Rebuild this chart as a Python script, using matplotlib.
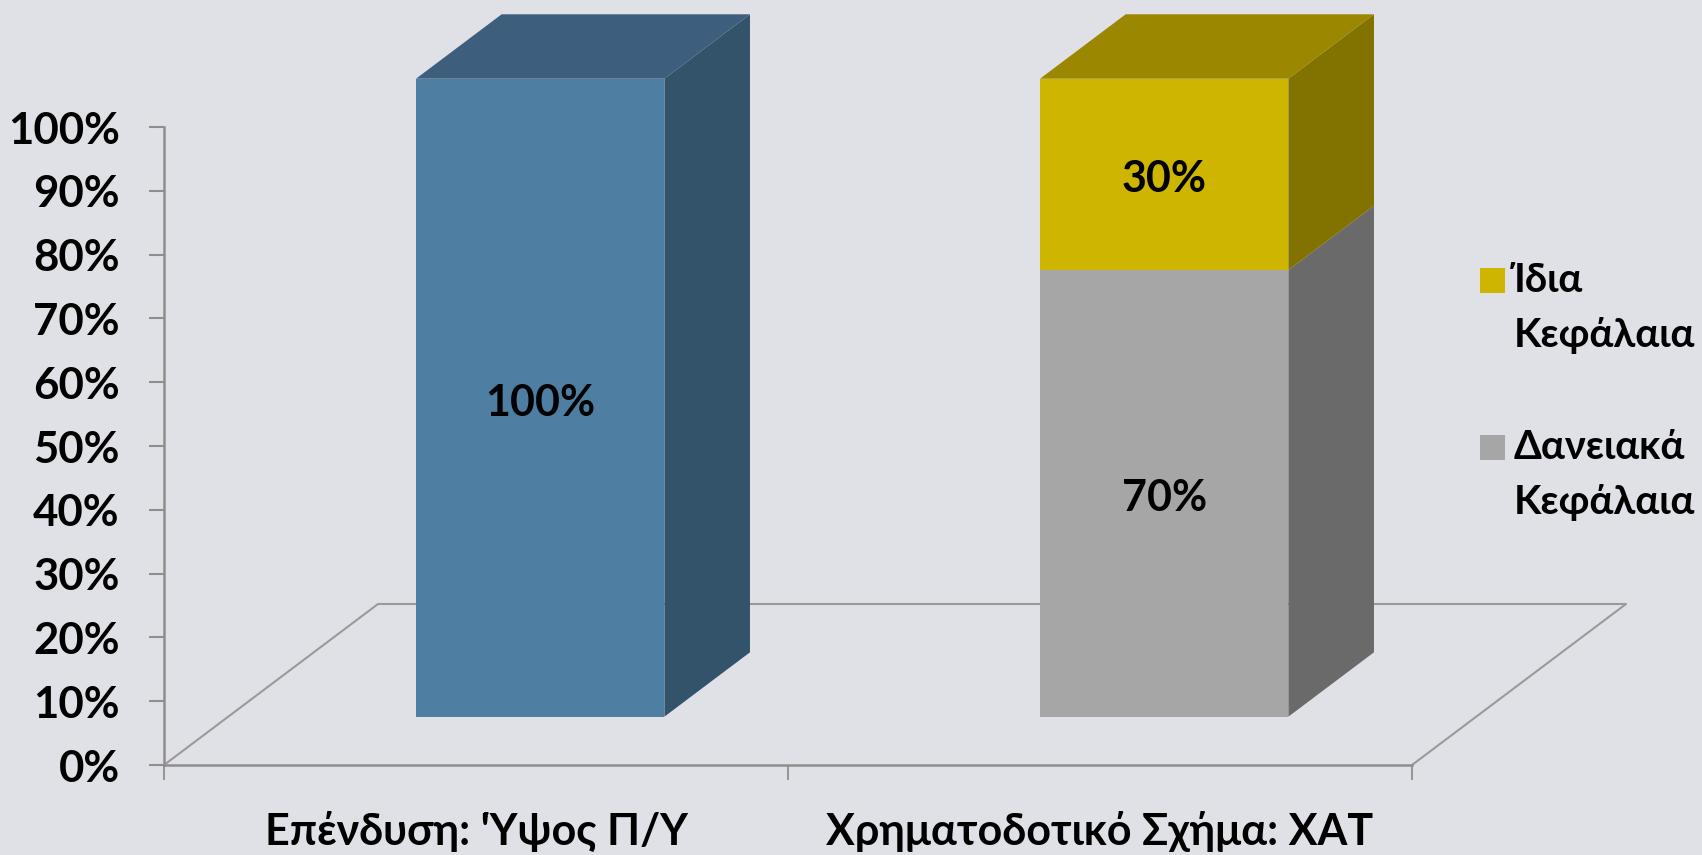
#!/usr/bin/python3
import matplotlib as mpl
mpl.use('Agg')
from matplotlib import pyplot as plt
from matplotlib.patches import Polygon, Rectangle

plt.rcParams['font.family'] = ['Lato', 'Open Sans', 'DejaVu Sans']
plt.rcParams['font.weight'] = 'bold'

categories = ["Επένδυση: 'Ύψος Π/Υ", 'Χρηματοδοτικό Σχήμα: ΧΑΤ']
invest_values = [100, 0]
debt_values = [0, 70]
equity_values = [0, 30]
yticks = list(range(0, 101, 10))
legend_labels = ['Ίδια\nΚεφάλαια', 'Δανειακά\nΚεφάλαια']

W, H = 1702, 855
BG = '#E0E1E7'
AXIS = '#8E8E8E'

# plot box in pixels
X0, X1, Y0, Y1 = 164, 1412, 765, 127
# oblique floor depth, in data units
DX = 214 / (X1 - X0) * 2
DY = 161 / (Y0 - Y1) * 100
D_FRONT, D_BACK = 0.30, 0.70
BAR_W = 0.398


def proj(x, y, d):
    return (x + d * DX, y + d * DY)


def draw_bar(ax, xc, bottom, top, front, side, cap, label, last):
    xl, xr = xc - BAR_W / 2, xc + BAR_W / 2
    ax.add_patch(Polygon([proj(xl, bottom, D_FRONT), proj(xr, bottom, D_FRONT),
                          proj(xr, top, D_FRONT), proj(xl, top, D_FRONT)],
                         fc=front, ec='none', clip_on=False, zorder=4))
    ax.add_patch(Polygon([proj(xr, bottom, D_FRONT), proj(xr, bottom, D_BACK),
                          proj(xr, top, D_BACK), proj(xr, top, D_FRONT)],
                         fc=side, ec='none', clip_on=False, zorder=3))
    if last:
        ax.add_patch(Polygon([proj(xl, top, D_FRONT), proj(xr, top, D_FRONT),
                              proj(xr, top, D_BACK), proj(xl, top, D_BACK)],
                             fc=cap, ec='none', clip_on=False, zorder=3))
    ax.annotate(label, proj(xc, (bottom + top) / 2, D_FRONT), xytext=(0, -3.5),
                textcoords='offset points', ha='center', va='center',
                fontsize=31, color='black', zorder=5)


def main():
    fh = plt.figure(figsize=(W / 100, H / 100), dpi=100, facecolor=BG)
    ax = fh.add_axes([X0 / W, 1 - Y0 / H, (X1 - X0) / W, (Y0 - Y1) / H])
    ax.set_facecolor('none')
    ax.set_xlim(0, 2)
    ax.set_ylim(0, 100)

    for s in ['top', 'right']:
        ax.spines[s].set_visible(False)
    for s in ['left', 'bottom']:
        ax.spines[s].set_color(AXIS)
        ax.spines[s].set_linewidth(1.8)

    ax.set_yticks(yticks)
    ax.set_yticklabels([str(v) + '%' for v in yticks], fontsize=31.5)
    ax.tick_params(axis='y', length=11, width=1.5, color=AXIS, pad=21)
    ax.set_xticks([0, 1, 2])
    ax.set_xticklabels([])
    ax.tick_params(axis='x', which='major', length=11, width=1.3, color=AXIS)
    ax.set_xticks([0.5, 1.5], minor=True)
    ax.set_xticklabels(categories, minor=True, fontsize=31)
    ax.tick_params(axis='x', which='minor', length=0, pad=33)

    # floor
    floor = [proj(0, 0, 0), proj(0, 0, 1), proj(2, 0, 1), proj(2, 0, 0)]
    ax.plot(*zip(*floor), color='#9A9A9A', lw=1.5, clip_on=False, zorder=1)

    # bars
    for i, v in enumerate(invest_values):
        if v > 0:
            draw_bar(ax, i + 0.5, 0, v, '#4F7EA3', '#33536A', '#3D5F7D', str(v) + '%', True)
    for i, (d, e) in enumerate(zip(debt_values, equity_values)):
        if d > 0:
            draw_bar(ax, i + 0.5, 0, d, '#A6A6A6', '#6A6A6A', '#808080', str(d) + '%', e == 0)
        if e > 0:
            draw_bar(ax, i + 0.5, d, d + e, '#CDB500', '#827200', '#9B8800', str(e) + '%', True)

    # legend
    swatches = ['#CDB500', '#A6A6A6']
    tops = [268, 435]
    for lab, col, top in zip(legend_labels, swatches, tops):
        fh.add_artist(Rectangle((1480 / W, 1 - (top + 25) / H), 25 / W, 25 / H,
                                transform=fh.transFigure, fc=col, ec='none'))
        fh.text(1514 / W, 1 - (top - 6) / H, lab, fontsize=28.7, va='top', ha='left',
                linespacing=1.6, color='black')

    fh.savefig('out.png', dpi=100, facecolor=BG)


if __name__ == '__main__':
    main()
